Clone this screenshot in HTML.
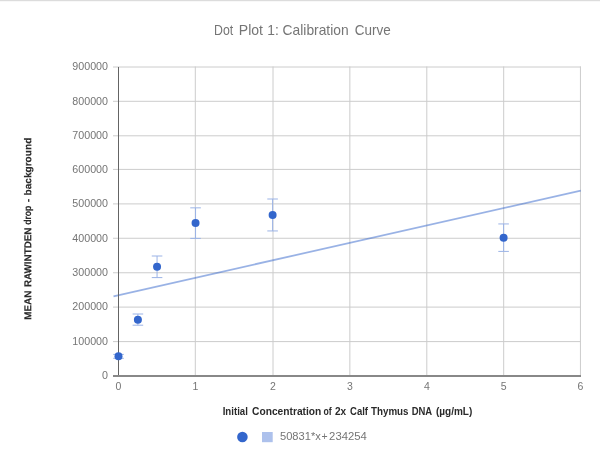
<!DOCTYPE html>
<html><head><meta charset="utf-8"><title>Dot Plot 1: Calibration Curve</title>
<style>
html,body{margin:0;padding:0;background:#fff;}
body{width:600px;height:464px;overflow:hidden;font-family:"Liberation Sans",sans-serif;}
svg{display:block;will-change:transform;}
text{font-family:"Liberation Sans",sans-serif;}
</style></head><body>
<svg width="600" height="464" viewBox="0 0 600 464">
<rect x="0" y="0" width="600" height="464" fill="#ffffff"/>
<rect x="0" y="0" width="600" height="1" fill="#dcdcdc"/>
<rect x="0" y="1" width="600" height="1" fill="#f8f8f8"/>
<g font-size="14.3" fill="#757575">
<text x="214.02" y="35.0" textLength="19.16" lengthAdjust="spacingAndGlyphs">Dot</text>
<text x="238.80" y="35.0" textLength="24.20" lengthAdjust="spacingAndGlyphs">Plot</text>
<text x="267.30" y="35.0" textLength="11.50" lengthAdjust="spacingAndGlyphs">1:</text>
<text x="282.60" y="35.0" textLength="66.00" lengthAdjust="spacingAndGlyphs">Calibration</text>
<text x="354.79" y="35.0" textLength="36.03" lengthAdjust="spacingAndGlyphs">Curve</text>
</g>
<g stroke="#cccccc" stroke-width="1" fill="none">
<line x1="113" y1="341.6" x2="581" y2="341.6"/>
<line x1="113" y1="307.1" x2="581" y2="307.1"/>
<line x1="113" y1="272.75" x2="581" y2="272.75"/>
<line x1="113" y1="238.25" x2="581" y2="238.25"/>
<line x1="113" y1="203.9" x2="581" y2="203.9"/>
<line x1="113" y1="169.4" x2="581" y2="169.4"/>
<line x1="113" y1="135.8" x2="581" y2="135.8"/>
<line x1="113" y1="101.3" x2="581" y2="101.3"/>
<line x1="113" y1="67.0" x2="581" y2="67.0"/>
<line x1="195.3" y1="66.5" x2="195.3" y2="375"/>
<line x1="273.0" y1="66.5" x2="273.0" y2="375"/>
<line x1="349.85" y1="66.5" x2="349.85" y2="375"/>
<line x1="426.8" y1="66.5" x2="426.8" y2="375"/>
<line x1="503.7" y1="66.5" x2="503.7" y2="375"/>
<line x1="580.45" y1="66.5" x2="580.45" y2="375"/>
</g>
<line x1="113.5" y1="296.3" x2="580.8" y2="190.6" stroke="#3366cc" stroke-opacity="0.5" stroke-width="1.75"/>
<line x1="118.5" y1="67" x2="118.5" y2="375" stroke="#646464" stroke-width="1"/>
<rect x="113" y="375" width="468" height="2" fill="#888888"/>
<g stroke="#9bb3e6" stroke-width="1" fill="none">
<path d="M118.5 354.4V358.3M113.20 354.4H123.80M113.20 358.3H123.80"/>
<path d="M137.9 314.0V325.2M132.60 314.0H143.20M132.60 325.2H143.20"/>
<path d="M157.05 256.0V277.6M151.75 256.0H162.35M151.75 277.6H162.35"/>
<path d="M195.55 207.85V238.4M190.25 207.85H200.85M190.25 238.4H200.85"/>
<path d="M272.6 199.0V230.95M267.30 199.0H277.90M267.30 230.95H277.90"/>
<path d="M503.6 223.95V251.4M498.30 223.95H508.90M498.30 251.4H508.90"/>
</g>
<g fill="#3366cc">
<circle cx="118.5" cy="356.3" r="4"/>
<circle cx="137.9" cy="319.65" r="4"/>
<circle cx="157.05" cy="266.85" r="4"/>
<circle cx="195.55" cy="223.0" r="4"/>
<circle cx="272.6" cy="215.0" r="4"/>
<circle cx="503.6" cy="237.7" r="4"/>
</g>
<g font-size="10.7" fill="#757575" text-anchor="end">
<text x="108.0" y="379.30">0</text>
<text x="108.0" y="344.90">100000</text>
<text x="108.0" y="310.40">200000</text>
<text x="108.0" y="276.05">300000</text>
<text x="108.0" y="241.55">400000</text>
<text x="108.0" y="207.20">500000</text>
<text x="108.0" y="172.70">600000</text>
<text x="108.0" y="139.10">700000</text>
<text x="108.0" y="104.60">800000</text>
<text x="108.0" y="70.30">900000</text>
</g>
<g font-size="10.5" fill="#757575" text-anchor="middle">
<text x="118.5" y="389.65">0</text>
<text x="195.3" y="389.65">1</text>
<text x="273.0" y="389.65">2</text>
<text x="349.85" y="389.65">3</text>
<text x="426.8" y="389.65">4</text>
<text x="503.7" y="389.65">5</text>
<text x="580.45" y="389.65">6</text>
</g>
<g font-size="10.5" font-weight="bold" fill="#2a2a2a">
<text x="222.70" y="414.9" textLength="25.20" lengthAdjust="spacingAndGlyphs">Initial</text>
<text x="252.10" y="414.9" textLength="69.20" lengthAdjust="spacingAndGlyphs">Concentration</text>
<text x="323.50" y="414.9" textLength="8.20" lengthAdjust="spacingAndGlyphs">of</text>
<text x="334.90" y="414.9" textLength="11.20" lengthAdjust="spacingAndGlyphs">2x</text>
<text x="350.08" y="414.9" textLength="17.94" lengthAdjust="spacingAndGlyphs">Calf</text>
<text x="371.00" y="414.9" textLength="37.50" lengthAdjust="spacingAndGlyphs">Thymus</text>
<text x="411.70" y="414.9" textLength="20.50" lengthAdjust="spacingAndGlyphs">DNA</text>
<text x="435.90" y="414.9" textLength="36.40" lengthAdjust="spacingAndGlyphs">(µg/mL)</text>
</g>
<g transform="translate(31.45 0) rotate(-89.97)" font-size="10.0" font-weight="bold" fill="#2a2a2a" stroke="#2a2a2a" stroke-width="0.12">
<text x="-319.80" y="0" textLength="29.20" lengthAdjust="spacingAndGlyphs">MEAN</text>
<text x="-287.10" y="0" textLength="59.50" lengthAdjust="spacingAndGlyphs">RAWINTDEN</text>
<text x="-224.80" y="0" textLength="19.00" lengthAdjust="spacingAndGlyphs">drop</text>
<text x="-202.20" y="0" textLength="3.50" lengthAdjust="spacingAndGlyphs">-</text>
<text x="-195.51" y="0" textLength="57.81" lengthAdjust="spacingAndGlyphs">background</text>
</g>
<circle cx="242.4" cy="437" r="5.3" fill="#3366cc"/>
<rect x="262" y="432" width="10.7" height="10.2" fill="#adc1ec"/>
<g font-size="10.5" fill="#757575">
<text x="279.98" y="440.4" textLength="40.85" lengthAdjust="spacingAndGlyphs">50831*x</text>
<text x="321.40" y="440.4" textLength="6.13" lengthAdjust="spacingAndGlyphs">+</text>
<text x="329.14" y="440.4" textLength="37.72" lengthAdjust="spacingAndGlyphs">234254</text>
</g>
</svg>
</body></html>
